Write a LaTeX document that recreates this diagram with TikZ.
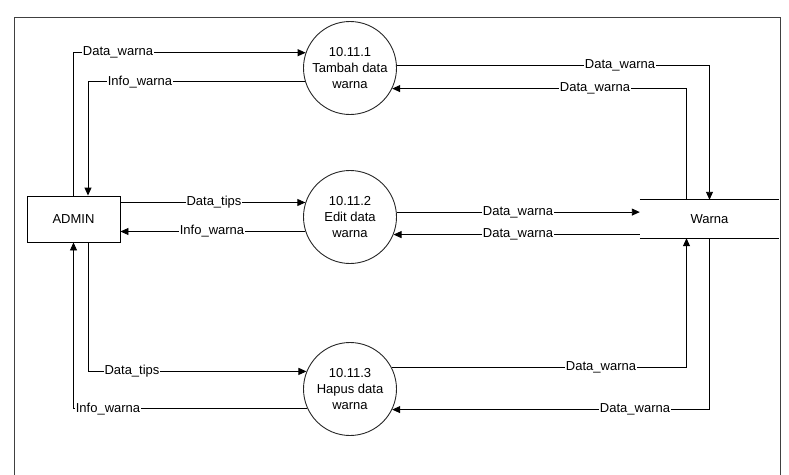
\documentclass[tikz,border=0pt]{standalone}
\usepackage{fontspec}
\setmainfont{Liberation Sans}
\usetikzlibrary{arrows.meta}
\begin{document}
\begin{tikzpicture}[x=1pt,y=-1pt,
  every node/.style={font=\fontsize{13}{16}\selectfont},
  flow/.style={draw=black,line width=0.9pt,-{Triangle[length=8pt,width=7pt]}},
  plain/.style={draw=black,line width=0.9pt},
  proc/.style={circle,draw=black!85,line width=0.9pt,minimum size=93pt,inner sep=0pt,align=center},
  entity/.style={rectangle,draw=black,line width=0.9pt,minimum width=93pt,minimum height=46pt,inner sep=0pt},
  store/.style={rectangle,minimum width=139pt,minimum height=38pt,inner sep=0pt},
  lbl/.style={fill=white,inner sep=0.8pt}]
\useasboundingbox (0,0) rectangle (789,474);
\clip (0,0) rectangle (789,474);
\draw[black!75,line width=0.9pt] (14,17) rectangle (780,495);

\node[proc] (p1) at (350,68) {10.11.1\\Tambah data\\warna};
\node[proc] (p2) at (350,217) {10.11.2\\Edit data\\warna};
\node[proc] (p3) at (350,389) {10.11.3\\Hapus data\\warna};
\node[entity] (admin) at (73.5,219) {ADMIN};
\node[store] (warna) at (709.5,219) {Warna};
\draw[plain] (warna.north west) -- (warna.north east);
\draw[plain] (warna.south west) -- (warna.south east);

% left side
\draw[flow] (admin.north) |- (p1.161);
\draw[flow] (p1.197) -| ([xshift=14.5pt]admin.north);
\draw[flow] (admin.east |- p2.162) -- (p2.162);
\draw[flow] (p2.198) -- (admin.east |- p2.198);
\draw[flow] ([xshift=14.5pt]admin.south) |- (p3.158);
\draw[flow] (p3.205) -| (admin.south);

% right side
\draw[flow] (p1.3) -| (warna.north);
\draw[flow] ([xshift=-23pt]warna.north) |- (p1.334);
\draw[flow] (p2.6) -- (warna.west |- p2.6);
\draw[flow] (warna.west |- p2.338) -- (p2.338);
\draw[flow] (p3.27) -| ([xshift=-23pt]warna.south);
\draw[flow] (warna.south) |- (p3.334);

% labels
\node[lbl] (l1) at (p1.161 -| 118,0) {Data\_warna};
\node[lbl] (l2) at (p1.197 -| 140,0) {Info\_warna};
\node[lbl] (l3) at (p2.162 -| 214,0) {Data\_tips};
\node[lbl] (l4) at (p2.198 -| 212,0) {Info\_warna};
\node[lbl] (l5) at (p3.158 -| 132,0) {Data\_tips};
\node[lbl] (l6) at (p3.205 -| 108,0) {Info\_warna};
\node[lbl] (r1) at (p1.3 -| 620,0) {Data\_warna};
\node[lbl] (r2) at (p1.334 -| 595,0) {Data\_warna};
\node[lbl] (r3) at (p2.6 -| 518,0) {Data\_warna};
\node[lbl] (r4) at (p2.338 -| 518,0) {Data\_warna};
\node[lbl] (r5) at (p3.27 -| 601,0) {Data\_warna};
\node[lbl] (r6) at (p3.334 -| 635,0) {Data\_warna};
\end{tikzpicture}
\end{document}
